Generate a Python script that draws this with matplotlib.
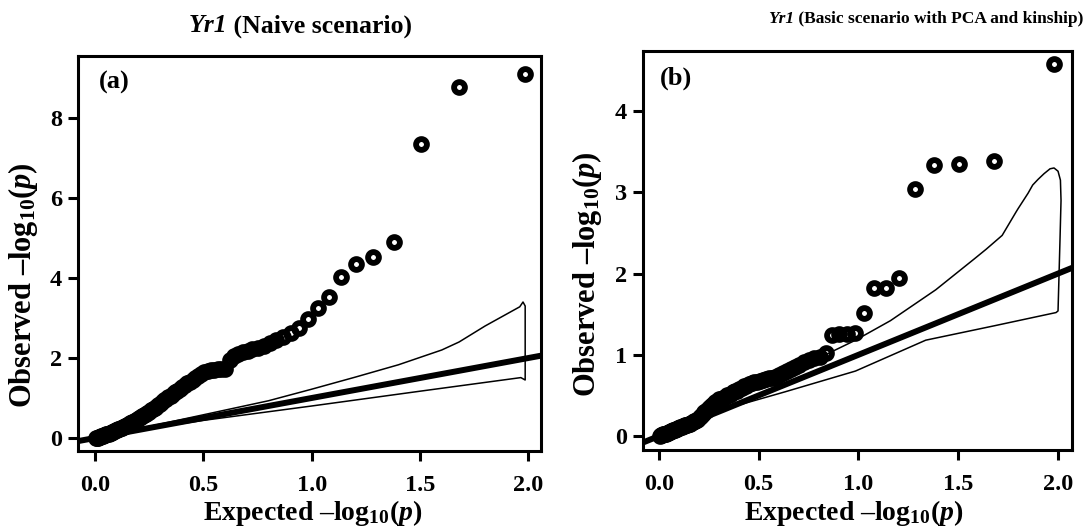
import matplotlib
matplotlib.use("Agg")
import matplotlib.pyplot as plt

plt.rcParams['font.family'] = ['Liberation Serif', 'DejaVu Serif']
plt.rcParams['font.weight'] = 'bold'
plt.rcParams['mathtext.fontset'] = 'custom'
plt.rcParams['mathtext.rm'] = 'Liberation Serif:bold'
plt.rcParams['mathtext.bf'] = 'Liberation Serif:bold'
plt.rcParams['mathtext.it'] = 'Liberation Serif:italic:bold'

# ==== expected -log10(p) (same 95 markers in both panels) ====
expected = [1.982, 1.681, 1.505, 1.380, 1.283, 1.204, 1.137, 1.079, 1.028, 0.982,
            0.941, 0.903, 0.868, 0.836, 0.806, 0.778, 0.752, 0.727, 0.704, 0.681,
            0.660, 0.640, 0.621, 0.602, 0.584, 0.567, 0.551, 0.535, 0.520, 0.505,
            0.491, 0.477, 0.464, 0.451, 0.438, 0.426, 0.414, 0.403, 0.391, 0.380,
            0.370, 0.359, 0.349, 0.339, 0.329, 0.320, 0.310, 0.301, 0.292, 0.283,
            0.275, 0.266, 0.258, 0.250, 0.242, 0.234, 0.226, 0.219, 0.211, 0.204,
            0.197, 0.190, 0.183, 0.176, 0.169, 0.163, 0.156, 0.150, 0.143, 0.137,
            0.131, 0.125, 0.119, 0.113, 0.107, 0.101, 0.096, 0.090, 0.085, 0.079,
            0.074, 0.068, 0.063, 0.058, 0.053, 0.048, 0.043, 0.038, 0.033, 0.028,
            0.023, 0.018, 0.014, 0.009, 0.005]

# ==== (a) naive scenario, observed -log10(p) ====
obs_naive = [9.10, 8.78, 7.35, 4.90, 4.52, 4.34, 4.03, 3.53, 3.25, 2.97,
             2.75, 2.62, 2.52, 2.45, 2.38, 2.31, 2.26, 2.22, 2.18, 2.14,
             2.10, 2.04, 1.96, 1.72, 1.72, 1.72, 1.71, 1.70, 1.68, 1.64,
             1.60, 1.55, 1.50, 1.46, 1.41, 1.37, 1.32, 1.27, 1.23, 1.18,
             1.14, 1.10, 1.06, 1.02, 0.98, 0.94, 0.90, 0.86, 0.82, 0.78,
             0.75, 0.72, 0.69, 0.66, 0.63, 0.60, 0.57, 0.55, 0.52, 0.50,
             0.47, 0.45, 0.43, 0.41, 0.39, 0.37, 0.35, 0.33, 0.31, 0.29,
             0.28, 0.26, 0.25, 0.23, 0.22, 0.20, 0.19, 0.17, 0.16, 0.15,
             0.13, 0.12, 0.11, 0.10, 0.09, 0.08, 0.07, 0.06, 0.05, 0.04,
             0.03, 0.02, 0.01, 0.005, 0.0]

# ==== (b) PCA + kinship, observed -log10(p) ====
obs_pca = [4.58, 3.38, 3.35, 3.34, 3.04, 1.95, 1.82, 1.82, 1.52, 1.27,
           1.26, 1.25, 1.24, 1.02, 0.97, 0.96, 0.94, 0.91, 0.88, 0.85,
           0.82, 0.80, 0.77, 0.75, 0.73, 0.72, 0.71, 0.70, 0.69, 0.68,
           0.67, 0.66, 0.65, 0.64, 0.62, 0.61, 0.59, 0.58, 0.56, 0.55,
           0.54, 0.52, 0.51, 0.50, 0.48, 0.47, 0.46, 0.45, 0.43, 0.42,
           0.40, 0.38, 0.36, 0.34, 0.32, 0.31, 0.29, 0.27, 0.25, 0.23,
           0.21, 0.20, 0.19, 0.18, 0.17, 0.16, 0.15, 0.15, 0.14, 0.13,
           0.13, 0.12, 0.12, 0.11, 0.11, 0.10, 0.10, 0.09, 0.09, 0.08,
           0.08, 0.07, 0.06, 0.06, 0.05, 0.05, 0.04, 0.04, 0.03, 0.03,
           0.02, 0.02, 0.01, 0.01, 0.0]

# ==== confidence band outlines (lower edge, right closing hook, upper edge) ====
band_naive_x = [0.0, 0.2, 0.5, 1.0, 1.5, 1.965, 1.985, 1.985, 1.975, 1.96,
                1.8, 1.68, 1.6, 1.4, 1.2, 1.0, 0.8, 0.5, 0.2, 0.0]
band_naive_y = [0.0, 0.20, 0.44, 0.80, 1.17, 1.51, 1.45, 3.30, 3.40, 3.28,
                2.80, 2.40, 2.20, 1.83, 1.52, 1.22, 0.93, 0.58, 0.23, 0.0]

band_pca_x = [0.0, 0.284, 0.633, 0.985, 1.337, 1.686, 1.99, 2.0, 2.01, 2.015, 2.012,
              2.0, 1.98, 1.96, 1.93, 1.90, 1.873, 1.85, 1.80, 1.79, 1.72, 1.64,
              1.58, 1.387, 1.16, 0.985, 0.633, 0.284, 0.0]
band_pca_y = [0.0, 0.30, 0.545, 0.80, 1.18, 1.36, 1.52, 1.54, 2.43, 2.90, 3.15,
              3.26, 3.30, 3.29, 3.23, 3.16, 3.09, 2.99, 2.80, 2.76, 2.47, 2.30,
              2.18, 1.80, 1.42, 1.18, 0.76, 0.38, 0.0]

x_ticks = [0.0, 0.5, 1.0, 1.5, 2.0]
y_ticks_naive = [0, 2, 4, 6, 8]
y_ticks_pca = [0, 1, 2, 3, 4]

W, H = 1086, 529
fig = plt.figure(figsize=(10.86, 5.29), dpi=100)
ax_a = fig.add_axes([78 / W, 1 - 451 / H, 463 / W, 395 / H])
ax_b = fig.add_axes([643 / W, 1 - 450 / H, 429 / W, 399 / H])

panels = [
    (ax_a, obs_naive, band_naive_x, band_naive_y, y_ticks_naive,
     (-0.078, 2.058), (-0.325, 9.55), "(a)"),
    (ax_b, obs_pca, band_pca_x, band_pca_y, y_ticks_pca,
     (-0.08, 2.07), (-0.172, 4.74), "(b)"),
]

for ax, obs, bx, by, yt, xlim, ylim, tag in panels:
    ax.plot([-0.5, 2.5], [-0.5, 2.5], color='black', lw=4.3, solid_capstyle='butt', zorder=2)
    ax.plot(bx, by, color='black', lw=1.1, zorder=2)
    ax.plot(expected, obs, 'o', ms=7.8, mew=4.2, mfc='none', mec='black', zorder=3)
    ax.set_xlim(*xlim)
    ax.set_ylim(*ylim)
    ax.set_xticks(x_ticks)
    ax.set_xticklabels([f"{t:.1f}" for t in x_ticks])
    ax.set_yticks(yt)
    ax.tick_params(direction='out', length=7.5, width=2.2, labelsize=17.5)
    ax.tick_params(axis='x', pad=10)
    ax.tick_params(axis='y', pad=4)
    for lab in ax.get_xticklabels() + ax.get_yticklabels():
        lab.set_fontweight('bold')
    for sp in ax.spines.values():
        sp.set_linewidth(2.2)
    ax.text(0.078, 0.932, tag, transform=ax.transAxes, fontsize=19,
            fontweight='bold', ha='center', va='center')


# title = italic gene name + upright bold rest, centred as one line
def titulo(xc, yc, resto, size):
    t1 = fig.text(0, 1 - yc / H, "Yr1", fontsize=size, fontweight='bold',
                  fontstyle='italic', ha='left', va='center')
    t2 = fig.text(0, 1 - yc / H, " " + resto, fontsize=size, fontweight='bold',
                  ha='left', va='center')
    r = fig.canvas.get_renderer()
    w1 = t1.get_window_extent(r).width
    w2 = t2.get_window_extent(r).width
    x0 = xc - (w1 + w2) / 2
    t1.set_x(x0 / W)
    t2.set_x((x0 + w1) / W)


titulo(300, 26, "(Naive scenario)", 18.5)
titulo(926, 19, "(Basic scenario with PCA and kinship)", 12.5)

ylab = r"Observed –$\mathrm{log}_{10}$($p$)"
xlab = r"Expected –$\mathrm{log}_{10}$($p$)"
fig.text(23 / W, 1 - 285 / H, ylab, rotation=90, fontsize=22,
         fontweight='bold', ha='center', va='center')
fig.text(587 / W, 1 - 274 / H, ylab, rotation=90, fontsize=22,
         fontweight='bold', ha='center', va='center')
fig.text(313 / W, 1 - 513 / H, xlab, fontsize=20,
         fontweight='bold', ha='center', va='center')
fig.text(854 / W, 1 - 513 / H, xlab, fontsize=20,
         fontweight='bold', ha='center', va='center')

fig.savefig("out.png", dpi=100)
